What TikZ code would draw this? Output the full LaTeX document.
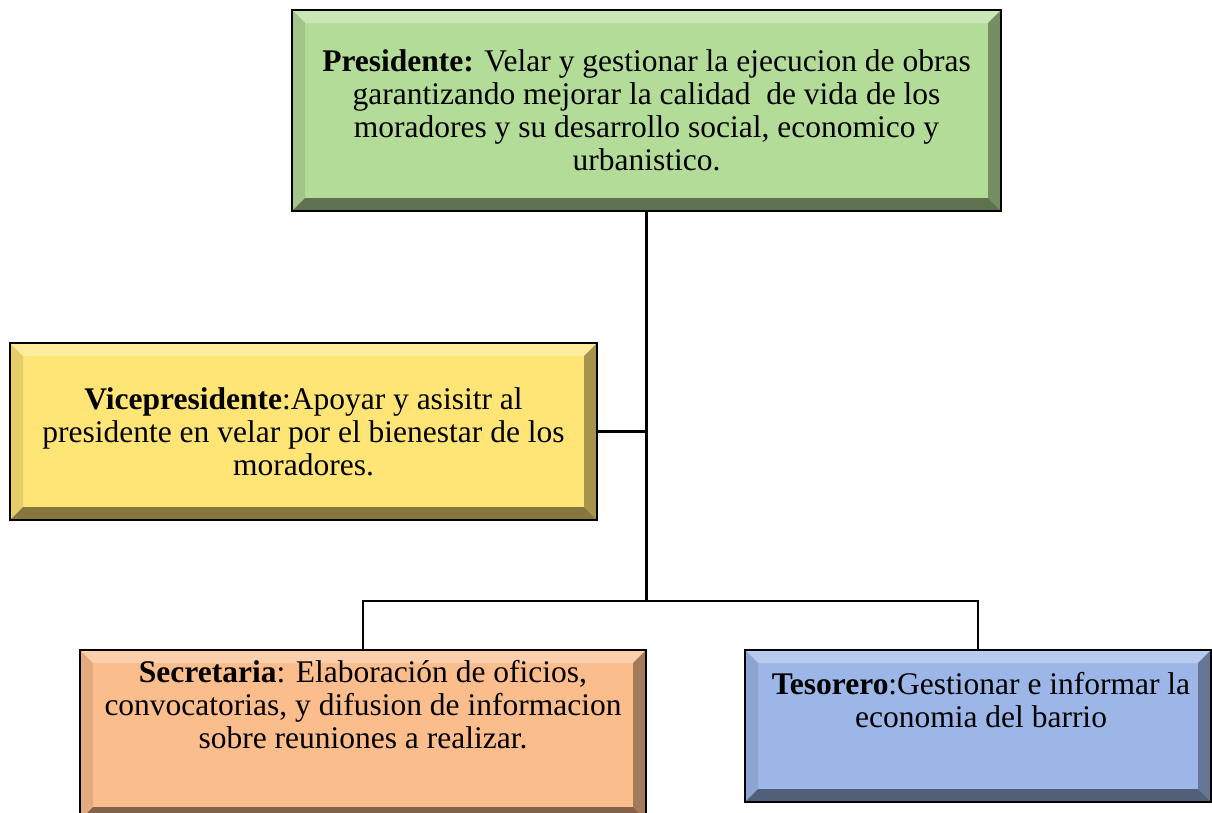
\documentclass[tikz,border=0pt]{standalone}
\usepackage{fontspec}
\setmainfont{Liberation Serif}
\definecolor{cgreen}{RGB}{180,220,153}
\definecolor{cyellow}{RGB}{255,228,118}
\definecolor{corange}{RGB}{251,189,140}
\definecolor{cblue}{RGB}{156,182,231}
\tikzset{
  bevel/.style={draw=black, line width=2.6pt, fill=#1, inner sep=0pt,
    path picture={
      \def\bw{13pt}
      \coordinate (nw) at (path picture bounding box.north west);
      \coordinate (se) at (path picture bounding box.south east);
      \fill[#1!72!white] (nw) -- (nw -| se) -- ([xshift=-\bw,yshift=-\bw]nw -| se) -- ([xshift=\bw,yshift=-\bw]nw) -- cycle;
      \fill[#1!90!black] (nw) -- ([xshift=\bw,yshift=-\bw]nw) -- ([xshift=\bw,yshift=\bw]nw |- se) -- (nw |- se) -- cycle;
      \fill[#1!65!black] (nw -| se) -- (se) -- ([xshift=-\bw,yshift=\bw]se) -- ([xshift=-\bw,yshift=-\bw]nw -| se) -- cycle;
      \fill[#1!52!black] (nw |- se) -- (se) -- ([xshift=-\bw,yshift=\bw]se) -- ([xshift=\bw,yshift=\bw]nw |- se) -- cycle;
    }},
  txt/.style={align=center, font=\fontsize{31.5}{33}\selectfont, inner sep=0pt},
  conn/.style={draw=black, line width=2.6pt}
}
\begin{document}
\begin{tikzpicture}[x=1pt,y=-1pt]
\useasboundingbox (0,0) rectangle (1212,812);
% boxes
\node[bevel=cgreen, minimum width=709pt, minimum height=201pt] (pres) at (646.5,110.5) {};
\node[bevel=cyellow, minimum width=587pt, minimum height=177pt] (vice) at (303.5,431.5) {};
\node[bevel=corange, minimum width=566pt, minimum height=170pt] (sec) at (363,735) {};
\node[bevel=cblue, minimum width=466pt, minimum height=152pt] (tes) at (978,726) {};
% texts
\node[txt] (presT) at (646.5,110) {\textbf{Presidente:} Velar y gestionar la ejecucion de obras\\garantizando mejorar la calidad\ \ de vida de los\\moradores y su desarrollo social, economico y\\urbanistico.};
\node[txt] (viceT) at (303.5,432) {\textbf{Vicepresidente}:Apoyar y asisitr al\\presidente en velar por el bienestar de los\\moradores.};
\node[txt, anchor=north] (secT) at (363,660) {\textbf{Secretaria}: Elaboración de oficios,\\convocatorias, y difusion de informacion\\sobre reuniones a realizar.};
\node[txt, anchor=north] (tesT) at (981,672) {\textbf{Tesorero}:Gestionar e informar la\\economia del barrio};
% connectors
\coordinate (hub) at (646.5,601);
\draw[conn] (pres.south) -- (hub);
\draw[conn] (vice.east) -- (vice.east -| pres.south);
\draw[conn] (sec.north) -- (sec.north |- hub) -- (tes.north |- hub) -- (tes.north);
\end{tikzpicture}
\end{document}
